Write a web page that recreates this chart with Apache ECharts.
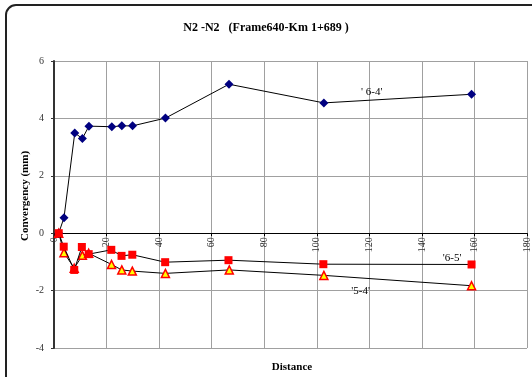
<!DOCTYPE html>
<html><head><meta charset="utf-8">
<script src="https://cdn.jsdelivr.net/npm/echarts@6/dist/echarts.min.js"></script>
<style>html,body{margin:0;padding:0;background:#fff}#c{width:532px;height:377px}</style>
</head><body><div id="c"></div>
<script>
// Series '6-4' (blue diamonds)
const x64 = [1.8, 3.8, 7.9, 10.8, 13.3, 22.0, 25.8, 29.9, 42.4, 66.6, 102.7, 158.9];
const y64 = [0, 0.54, 3.49, 3.30, 3.73, 3.71, 3.74, 3.74, 4.01, 5.19, 4.54, 4.84];
// Series '6-5' (red squares)
const x65 = [1.8, 3.7, 7.7, 10.6, 13.2, 21.8, 25.7, 29.8, 42.3, 66.4, 102.5, 158.9];
const y65 = [0, -0.47, -1.28, -0.48, -0.73, -0.58, -0.79, -0.75, -1.01, -0.94, -1.08, -1.09];
// Series '5-4' (yellow triangles)
const x54 = [1.8, 3.8, 7.7, 10.8, 13.2, 21.9, 25.8, 29.8, 42.4, 66.7, 102.7, 158.9];
const y54 = [0, -0.68, -1.22, -0.77, -0.70, -1.09, -1.28, -1.32, -1.40, -1.28, -1.47, -1.83];
// In-chart series labels: [name, x, y]
const seriesLabels = [["' 6-4'", 120.9, 4.93], ["'6-5'", 151.5, -0.87], ["'5-4'", 116.7, -2.01]];
const xTicks = {min: 0, max: 180, interval: 20};
const yTicks = {min: -4, max: 6, interval: 2};
const titleText = 'N2 -N2   (Frame640-Km 1+689 )';
const xName = 'Distance';
const yName = 'Convergency (mm)';

const zip = (a, b) => a.map((v, i) => [v, b[i]]);
const font = 'Liberation Serif, serif';
function lbl(i) {
  return {
    coord: [seriesLabels[i][1], seriesLabels[i][2]],
    symbol: 'rect', symbolSize: 0,
    label: {show: true, position: 'inside', formatter: seriesLabels[i][0], color: '#000', fontFamily: font, fontSize: 11}
  };
}
const chart = echarts.init(document.getElementById('c'), null, {renderer: 'canvas'});
chart.setOption({
  animation: false,
  backgroundColor: '#fff',
  title: {text: titleText, left: 'center', top: 17,
    textStyle: {fontFamily: font, fontSize: 12, fontWeight: 'bold', color: '#000'}},
  graphic: [
    {type: 'rect', shape: {x: 6, y: 5, width: 600, height: 500, r: 10}, style: {fill: 'none', stroke: '#222', lineWidth: 2}, z: 100},
    {type: 'text', x: 25, y: 196, rotation: Math.PI / 2, style: {text: yName, font: 'bold 11px ' + font, fill: '#000', align: 'center', verticalAlign: 'middle'}},
    {type: 'text', x: 292, y: 367, style: {text: xName, font: 'bold 11px ' + font, fill: '#000', align: 'center', verticalAlign: 'middle'}}
  ],
  grid: {left: 54, right: 4, top: 61, bottom: 29, containLabel: false},
  xAxis: [{
    type: 'value', min: xTicks.min, max: xTicks.max, interval: xTicks.interval,
    axisLine: {show: false, onZero: false},
    axisTick: {show: false},
    axisLabel: {show: false},
    splitLine: {show: true, lineStyle: {color: '#a0a0a0', width: 1}}
  }, {
    type: 'value', position: 'bottom', min: xTicks.min, max: xTicks.max, interval: xTicks.interval,
    axisLine: {show: true, onZero: false, lineStyle: {color: '#000', width: 1}},
    axisTick: {show: true, length: 3, lineStyle: {color: '#000'}},
    axisLabel: {rotate: 90, margin: 4, color: '#333', fontFamily: font, fontSize: 10},
    splitLine: {show: false}
  }],
  yAxis: {
    type: 'value', min: yTicks.min, max: yTicks.max, interval: yTicks.interval,
    axisLine: {show: true, onZero: false, lineStyle: {color: '#333', width: 2}},
    axisTick: {show: true, length: 3, lineStyle: {color: '#333'}},
    axisLabel: {margin: 10, color: '#333', fontFamily: font, fontSize: 10},
    splitLine: {show: true, lineStyle: {color: '#a0a0a0', width: 1}}
  },
  series: [
    {name: '6-4', type: 'line', data: zip(x64, y64), symbol: 'diamond', symbolSize: 9,
      itemStyle: {color: '#000080'}, lineStyle: {color: '#000', width: 1}, z: 3,
      markPoint: {data: [lbl(0)]}},
    {name: '5-4', type: 'line', data: zip(x54, y54), symbol: 'triangle', symbolSize: 8,
      itemStyle: {color: '#ffff00', borderColor: '#ff0000', borderWidth: 1.5}, lineStyle: {color: '#000', width: 1}, z: 2,
      markPoint: {data: [lbl(2)]}},
    {name: '6-5', type: 'line', data: zip(x65, y65), symbol: 'rect', symbolSize: 8,
      itemStyle: {color: '#ff0000'}, lineStyle: {color: '#000', width: 1}, z: 4,
      markPoint: {data: [lbl(1)]}}
  ]
});
// Move the labelled x axis up to y = 0 using the chart's own scale
const zeroPx = chart.convertToPixel({yAxisIndex: 0}, 0);
const bottomPx = chart.convertToPixel({yAxisIndex: 0}, yTicks.min);
chart.setOption({xAxis: [{}, {offset: zeroPx - bottomPx}]});
</script></body></html>
